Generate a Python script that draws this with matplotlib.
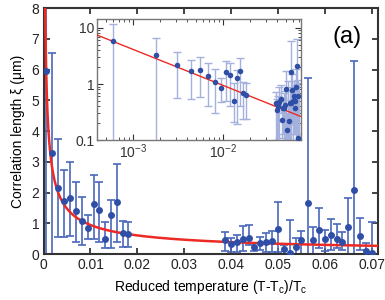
import numpy as np
import matplotlib
matplotlib.use("Agg")
import matplotlib.pyplot as plt
from matplotlib.ticker import FixedLocator, FixedFormatter, LogLocator, NullFormatter

plt.rcParams['font.family'] = ['Liberation Sans', 'DejaVu Sans']
plt.rcParams['mathtext.default'] = 'regular'

# reduced temperature
t = [0.0006, 0.0018, 0.0031, 0.0044, 0.0056, 0.0069, 0.0081, 0.0094, 0.0107,
     0.0119, 0.0131, 0.0144, 0.0156, 0.0169, 0.0180,
     0.0387, 0.0399, 0.0412, 0.0424, 0.0437, 0.0449, 0.0461, 0.0474, 0.0487,
     0.0500, 0.0512, 0.0524, 0.0537, 0.0549, 0.0562, 0.0574, 0.0586, 0.0599,
     0.0611, 0.0624, 0.0636, 0.0649, 0.0661, 0.0674, 0.0687, 0.0700]
# correlation length (um)
xi = [5.95, 3.28, 2.15, 1.72, 1.81, 1.39, 1.09, 0.86, 1.63,
      1.43, 0.49, 1.27, 1.68, 0.68, 0.65,
      0.46, 0.34, 0.40, 0.48, 0.53, 0.23, 0.37, 0.38, 0.43,
      0.83, 0.15, 0.04, 0.22, 0.45, 1.65, 0.46, 0.79, 0.50,
      0.61, 0.50, 0.38, 0.88, 2.09, 0.60, 0.11, 0.05]
# error bar upper / lower ends
xi_top = [11.8, 6.55, 3.74, 2.73, 3.00, 2.35, 1.86, 1.27, 2.58,
          2.36, 1.03, 1.75, 2.93, 1.09, 1.03,
          0.73, 0.53, 0.62, 0.90, 0.95, 0.37, 0.57, 0.70, 0.75,
          1.70, 0.30, 1.11, 0.51, 0.75, 5.73, 0.87, 1.50, 0.79,
          1.14, 0.97, 0.73, 1.83, 6.27, 1.17, 0.35, 1.04]
xi_bot = [0.0, 0.0, 0.57, 0.55, 0.59, 0.40, 0.30, 0.48, 0.50,
          0.40, 0.21, 0.19, 0.40, 0.24, 0.24,
          0.10, 0.08, 0.08, 0.11, 0.30, 0.11, 0.13, 0.08, 0.08,
          0.08, 0.0, 0.0, 0.0, 0.0, 0.0, 0.0, 0.19, 0.10,
          0.13, 0.19, 0.13, 0.0, 0.0, 0.13, 0.0, 0.0]
# power-law fit xi = A * t^(-nu)
fit_A = 0.0492
fit_nu = 0.642

t = np.array(t); xi = np.array(xi)
xi_top = np.array(xi_top); xi_bot = np.array(xi_bot)

pt_col = '#2f4ea6'
bar_col = '#4a68bb'
bar_light = '#a4b1dc'
red = '#ee2a24'

fig = plt.figure(figsize=(3.85, 3.0), dpi=100)
ax = fig.add_axes([0.113, 0.153, 0.869, 0.820])

yerr = [xi - xi_bot, xi_top - xi]
ax.errorbar(t, xi, yerr=yerr, fmt='none', ecolor=bar_col, elinewidth=1.2,
            capsize=3.2, capthick=1.2, zorder=2)
tf = np.linspace(2e-4, 0.0725, 2000)
ax.plot(tf, fit_A * tf ** (-fit_nu), color=red, lw=1.8, zorder=3)
ax.plot(t, xi, 'o', color=pt_col, ms=5, mec='none', zorder=4)

ax.set_xlim(0, 0.0712)
ax.set_ylim(0, 8)
ax.set_xticks([0, 0.01, 0.02, 0.03, 0.04, 0.05, 0.06, 0.07])
ax.set_xticklabels(['0', '0.01', '0.02', '0.03', '0.04', '0.05', '0.06', '0.07'])
ax.set_yticks(range(0, 9))
ax.tick_params(direction='in', top=True, right=True, length=4, width=1.2,
               labelsize=10, pad=3, colors='#222222')
for s in ax.spines.values():
    s.set_linewidth(1.5)
    s.set_color('#333333')
ax.set_xlabel('Reduced temperature (T-T$_c$)/T$_c$', fontsize=10, labelpad=4)
ax.set_ylabel('Correlation length ξ (μm)', fontsize=10, labelpad=5)
fig.text(347 / 385, 1 - 37 / 300, '(a)', fontsize=17, ha='center', va='center')

# inset
ins = fig.add_axes([0.252, 0.533, 0.530, 0.403])
ins.set_xscale('log')
ins.set_yscale('log')
lo_ins = np.clip(xi_bot, 1e-3, None)
ins.errorbar(t, xi, yerr=[xi - lo_ins, xi_top - xi], fmt='none', ecolor=bar_light,
             elinewidth=1.0, capsize=3.0, capthick=1.0, zorder=2)
tf2 = np.logspace(-3.6, -1.0, 200)
ins.plot(tf2, fit_A * tf2 ** (-fit_nu), color=red, lw=1.0, zorder=3)
ins.plot(t, xi, 'o', color=pt_col, ms=4, mec='none', zorder=4)
ins.set_xlim(4.0e-4, 0.0736)
ins.set_ylim(0.1, 14.3)
ins.yaxis.set_major_locator(FixedLocator([0.1, 1, 10]))
ins.yaxis.set_major_formatter(FixedFormatter(['0.1', '1', '10']))
ins.yaxis.set_minor_locator(LogLocator(base=10, subs=np.arange(2, 10)))
ins.yaxis.set_minor_formatter(NullFormatter())
ins.xaxis.set_major_locator(FixedLocator([1e-3, 1e-2]))
ins.xaxis.set_major_formatter(FixedFormatter(['10$^{-3}$', '10$^{-2}$']))
ins.xaxis.set_minor_locator(LogLocator(base=10, subs=np.arange(2, 10)))
ins.xaxis.set_minor_formatter(NullFormatter())
ins.tick_params(which='both', direction='in', top=True, right=True,
                labelsize=10, pad=2, colors='#333333')
ins.tick_params(which='major', length=4, width=0.8)
ins.tick_params(which='minor', length=2, width=0.6)
for s in ins.spines.values():
    s.set_linewidth(1.0)
    s.set_color('#777777')

fig.savefig('out.png', dpi=100)
